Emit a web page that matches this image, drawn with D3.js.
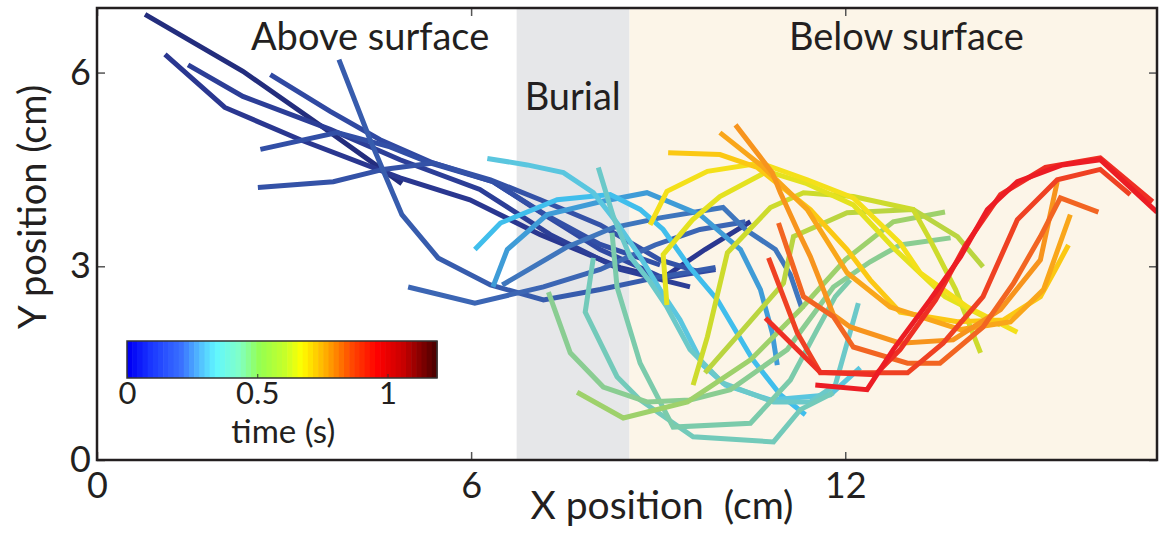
<!DOCTYPE html>
<html lang="en">
<head>
<meta charset="UTF-8">
<title>Body postures</title>
<script src="https://cdn.jsdelivr.net/npm/d3@7"></script>
<style>
  body { margin: 0; background: #fff; }
  text { font-family: Lato, "Open Sans", sans-serif; fill: #231f20; }
</style>
</head>
<body>
<svg id="chart" width="1162" height="534"></svg>
<script>
// axis ticks (cm)
var xTicks = [0, 6, 12];
var yTicks = [0, 3, 6];
var cbTicks = [0, 0.5, 1];

// regions along x (cm)
var regionNames = ["Above surface", "Burial", "Below surface"];
var regionEdges = [0, 6.73, 8.54, 17];

// time of each posture (s)
var poseTimes = [0.02, 0.05, 0.07, 0.10, 0.12, 0.13, 0.16, 0.19, 0.22, 0.27, 0.31, 0.36, 0.41, 0.44,
                 0.47, 0.51, 0.56, 0.62, 0.66, 0.70, 0.73, 0.78, 0.84, 0.88, 0.95, 1.00, 1.05, 1.10];

// body postures, [x, y] in cm
var pose01 = [[0.77,6.90],[2.34,6.02],[3.63,5.15],[4.89,4.28]];
var pose02 = [[1.09,6.28],[2.05,5.46],[3.26,4.96],[4.86,4.37],[5.98,4.03],[7.11,3.49],[8.39,2.98],[9.08,2.82],[9.75,3.26],[10.48,3.69]];
var pose03 = [[1.46,6.12],[2.34,5.63],[3.74,5.12],[4.86,4.65],[6.14,4.19],[7.27,3.49],[8.39,2.95],[9.51,2.68]];
var pose04 = [[2.78,5.97],[3.74,5.40],[4.54,4.96],[5.39,4.60],[6.35,4.31],[7.11,3.84],[8.07,3.26],[9.08,2.82],[9.92,2.95]];
var pose05 = [[2.62,4.81],[3.85,5.07],[4.70,4.85],[5.34,4.60],[6.35,4.31],[7.19,3.80],[8.07,3.34],[9.03,3.02]];
var pose06 = [[2.58,4.22],[3.79,4.31],[4.59,4.50],[5.39,4.60],[6.31,4.34],[7.11,4.03],[8.07,3.64],[9.03,3.10],[9.67,2.91]];
var pose07 = [[3.88,6.20],[4.38,4.96],[4.89,3.80],[5.47,3.13],[6.31,2.71],[7.16,2.48],[8.07,2.64],[8.95,2.82],[9.92,2.98]];
var pose08 = [[4.99,2.68],[6.06,2.43],[7.16,2.68],[8.07,2.95],[8.95,3.33],[9.67,3.57],[10.40,3.69]];
var pose09 = [[6.50,2.71],[7.54,3.30],[8.28,3.60],[9.03,3.75],[10.04,3.91],[10.40,3.57],[10.88,3.26],[11.12,2.87],[11.31,2.33]];
var pose10 = [[6.35,2.68],[6.58,3.26],[7.22,3.80],[8.07,4.00],[8.82,4.14],[9.67,3.80],[10.32,3.26],[10.64,2.64],[10.83,1.97],[10.91,1.47]];
var pose11 = [[6.06,3.26],[6.47,3.67],[7.38,4.03],[8.23,4.11],[8.71,3.88],[9.08,3.57],[9.51,2.98],[9.95,2.48],[10.52,1.55],[10.96,1.01],[11.36,0.70]];
var pose12 = [[6.26,4.67],[6.90,4.57],[7.48,4.45],[7.96,4.14],[8.34,3.67],[8.71,3.15],[9.03,2.64],[9.35,2.17],[9.72,1.47],[10.08,1.16],[10.80,0.93],[11.76,1.01],[12.24,1.43]];
var pose13 = [[8.04,4.53],[8.28,3.77],[8.55,3.15],[8.87,2.76],[9.14,2.37],[9.51,1.71],[10.04,1.19],[10.85,0.90],[11.44,0.90],[11.84,1.16],[12.21,2.43]];
var pose14 = [[7.96,3.13],[7.83,2.29],[8.34,1.29],[8.71,0.93],[9.56,0.36],[10.85,0.28],[11.28,0.78],[11.81,1.04]];
var pose15 = [[8.26,3.52],[8.34,2.68],[8.71,1.50],[9.24,0.51],[10.48,0.57],[11.12,1.24],[11.55,2.02],[11.84,2.53],[12.08,2.79]];
var pose16 = [[7.24,2.60],[7.59,1.66],[8.12,1.13],[8.82,0.90],[9.51,0.93],[10.16,1.09],[11.07,1.71],[11.81,2.68],[12.40,3.07],[12.88,3.33],[13.69,3.44]];
var pose17 = [[7.70,1.05],[8.44,0.65],[9.47,0.90],[10.48,1.55],[11.28,2.33],[12.00,3.10],[12.77,3.69],[13.60,3.84]];
var pose18 = [[9.75,1.35],[10.36,2.02],[11.01,2.74],[11.17,3.46],[12.03,3.83],[13.09,3.88],[13.80,3.46],[14.21,2.99]];
var pose19 = [[9.56,1.16],[9.79,1.91],[10.11,3.21],[10.80,3.91],[11.33,4.14],[12.13,4.08],[13.09,3.88],[13.36,3.41],[13.77,2.64],[14.17,1.66]];
var pose20 = [[9.14,2.40],[9.08,3.18],[9.55,3.72],[9.99,4.08],[10.75,4.47],[11.36,4.29],[12.13,3.95],[12.80,3.26],[13.60,2.53],[14.49,2.09]];
var pose21 = [[8.87,3.64],[9.14,4.16],[9.79,4.47],[10.64,4.60],[11.39,4.34],[12.13,4.06],[12.88,3.36],[13.20,2.90],[13.96,2.37],[14.76,1.98]];
var pose22 = [[9.16,4.76],[9.99,4.73],[10.59,4.53],[11.44,3.88],[12.03,3.26],[12.40,2.79],[12.88,2.29],[13.80,2.14],[14.54,2.17],[15.13,2.53],[15.37,2.95],[15.58,3.33]];
var pose23 = [[9.99,5.07],[10.68,4.54],[11.39,3.88],[12.03,2.90],[12.72,2.37],[13.85,2.02],[14.65,2.14],[15.18,2.64],[15.61,3.80]];
var pose24 = [[10.24,5.19],[10.83,4.45],[10.96,4.14],[11.23,3.57],[11.44,3.15],[11.81,2.25],[12.08,2.06],[12.88,1.81],[13.73,1.86],[14.49,2.33],[15.13,3.10],[15.40,4.31]];
var pose25 = [[10.93,3.67],[11.33,2.53],[11.81,2.22],[12.13,1.75],[13.00,1.50],[13.52,1.50],[14.21,2.06],[14.70,2.74],[15.13,3.46],[15.45,4.06],[16.06,3.84]];
var pose26 = [[10.77,3.13],[11.23,1.97],[11.60,1.35],[13.00,1.35],[13.57,1.81],[14.21,2.53],[14.76,3.72],[15.40,4.34],[16.09,4.50],[16.57,4.11]];
var pose27 = [[10.72,2.20],[11.60,1.36],[12.48,1.32],[12.88,1.71],[13.45,2.48],[13.93,3.33],[14.49,4.11],[15.21,4.53],[16.09,4.68],[16.93,4.00]];
var pose28 = [[11.52,1.16],[12.35,1.09],[12.77,1.71],[13.36,2.48],[13.85,3.15],[14.28,3.88],[14.76,4.31],[15.48,4.57],[16.09,4.65],[17.00,3.84]];

var poses = [pose01, pose02, pose03, pose04, pose05, pose06, pose07, pose08, pose09, pose10,
             pose11, pose12, pose13, pose14, pose15, pose16, pose17, pose18, pose19, pose20,
             pose21, pose22, pose23, pose24, pose25, pose26, pose27, pose28];

// line colour vs time, and colour bar vs time
var lineStopT = [0, 0.05, 0.1, 0.15, 0.2, 0.25, 0.3, 0.36, 0.42, 0.48, 0.53, 0.58, 0.63, 0.68, 0.72, 0.78, 0.84, 0.88, 0.95, 1.0, 1.1];
var lineStopC = ["#1f2670", "#2a3790", "#3049a2", "#3658ab", "#3d6ab6", "#4287c8", "#3bbcee", "#5ac6df", "#6ecac4",
                 "#7dcba6", "#93cf84", "#a6d25a", "#bfd63a", "#d7df22", "#f2e51b", "#fbc813", "#f9a61a", "#f7941d",
                 "#f26522", "#ef4123", "#ec1c24"];
var cbStopT = [0, 0.08, 0.2, 0.28, 0.33, 0.42, 0.5, 0.6, 0.66, 0.75, 0.85, 0.95, 1.05, 1.19];
var cbStopC = ["#0000f5", "#1a35ff", "#3a72ff", "#55c8ff", "#60f6ff", "#80ffc8", "#94ff50", "#c8ff28", "#ffff00",
               "#ffb000", "#ff4a00", "#ff0000", "#c80000", "#3c0000"];
var cbMax = 1.19;

var svg = d3.select("#chart");
var x = d3.scaleLinear().domain([0, 17]).range([97, 1157]);
var y = d3.scaleLinear().domain([0, 7]).range([460, 8]);
var lineColor = d3.scaleLinear().domain(lineStopT).range(lineStopC);
var cbColor = d3.scaleLinear().domain(cbStopT).range(cbStopC);

// background regions
var regionFill = ["#ffffff", "#e6e7e9", "#fcf5e8"];
svg.selectAll("rect.region")
  .data(regionNames)
  .enter().append("rect")
  .attr("class", "region")
  .attr("x", function (d, i) { return x(regionEdges[i]); })
  .attr("width", function (d, i) { return x(regionEdges[i + 1]) - x(regionEdges[i]); })
  .attr("y", y(7))
  .attr("height", y(0) - y(7))
  .attr("fill", function (d, i) { return regionFill[i]; });

svg.append("clipPath").attr("id", "plot")
  .append("rect").attr("x", x(0)).attr("y", y(7))
  .attr("width", x(17) - x(0)).attr("height", y(0) - y(7));

var line = d3.line().x(function (d) { return x(d[0]); }).y(function (d) { return y(d[1]); });

svg.append("g").attr("clip-path", "url(#plot)")
  .selectAll("path")
  .data(poses)
  .enter().append("path")
  .attr("d", line)
  .attr("fill", "none")
  .attr("stroke", function (d, i) { return lineColor(poseTimes[i]); })
  .attr("stroke-width", 5)
  .attr("stroke-linejoin", "miter");

// region labels
var labelPos = [[4.38, 50], [7.63, 110], [12.98, 50]];
svg.selectAll("text.region")
  .data(regionNames)
  .enter().append("text")
  .attr("class", "region")
  .attr("x", function (d, i) { return x(labelPos[i][0]); })
  .attr("y", function (d, i) { return labelPos[i][1]; })
  .attr("text-anchor", "middle")
  .style("font-size", "38px")
  .text(function (d) { return d; });

// axes, ticks pointing inward
function tidy(g) {
  g.select(".domain").remove();
  g.selectAll(".tick line").attr("stroke", "#555").attr("stroke-width", 1.5);
  g.selectAll(".tick text").style("font-size", "36px").attr("fill", "#231f20");
}
svg.append("g").attr("transform", "translate(0," + y(0) + ")")
  .call(d3.axisBottom(x).tickValues(xTicks).tickSize(-8).tickPadding(12).tickFormat(d3.format("d")))
  .call(tidy);
svg.append("g").attr("transform", "translate(0," + y(7) + ")")
  .call(d3.axisTop(x).tickValues(xTicks).tickSize(-8).tickFormat(""))
  .call(tidy);
svg.append("g").attr("transform", "translate(" + x(0) + ",0)")
  .call(d3.axisLeft(y).tickValues(yTicks).tickSize(-8).tickPadding(6).tickFormat(d3.format("d")))
  .call(tidy);
svg.append("g").attr("transform", "translate(" + x(17) + ",0)")
  .call(d3.axisRight(y).tickValues(yTicks).tickSize(-8).tickFormat(""))
  .call(tidy);

svg.append("rect")
  .attr("x", x(0)).attr("y", y(7))
  .attr("width", x(17) - x(0)).attr("height", y(0) - y(7))
  .attr("fill", "none").attr("stroke", "#231f20").attr("stroke-width", 2.5);

svg.append("text")
  .attr("x", 662).attr("y", 519)
  .attr("text-anchor", "middle")
  .style("font-size", "39px")
  .text("X position\u00a0\u00a0(cm)");

svg.append("text")
  .attr("transform", "translate(46,207)rotate(-90)")
  .attr("text-anchor", "middle")
  .style("font-size", "38px")
  .text("Y position (cm)");

// colour bar
var cb = d3.scaleLinear().domain([0, cbMax]).range([127, 437]);
var cbBands = d3.range(0, cbMax, cbMax / 60);
var cbG = svg.append("g");
cbG.selectAll("rect")
  .data(cbBands)
  .enter().append("rect")
  .attr("x", function (d) { return cb(d); })
  .attr("width", cb(cbMax / 60) - cb(0) + 0.6)
  .attr("y", 341).attr("height", 37)
  .attr("fill", function (d) { return cbColor(d); });
cbG.append("rect")
  .attr("x", cb(0)).attr("y", 341)
  .attr("width", cb(cbMax) - cb(0)).attr("height", 37)
  .attr("fill", "none").attr("stroke", "#333").attr("stroke-width", 1.5);
cbG.append("g").attr("transform", "translate(0,378)")
  .call(d3.axisBottom(cb).tickValues(cbTicks).tickSize(-4).tickPadding(4).tickFormat(function (d) { return String(d); }))
  .call(function (g) {
    g.select(".domain").remove();
    g.selectAll(".tick line").attr("stroke", "#333");
    g.selectAll(".tick text").style("font-size", "31px").attr("fill", "#231f20");
  });
cbG.append("text")
  .attr("x", cb(0.6)).attr("y", 443)
  .attr("text-anchor", "middle")
  .style("font-size", "33px")
  .text("time (s)");
</script>
</body>
</html>
